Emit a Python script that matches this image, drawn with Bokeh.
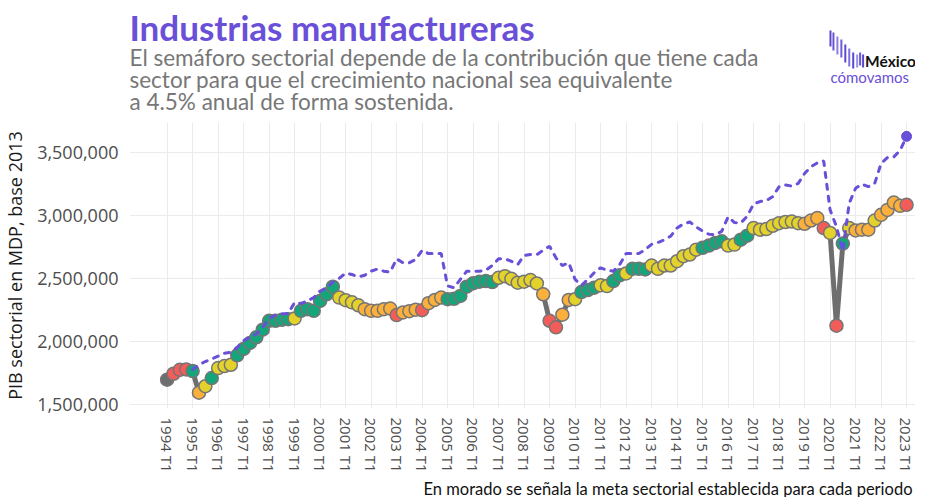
from bokeh.plotting import figure
from bokeh.models import Range1d, FixedTicker, NumeralTickFormatter
from bokeh.layouts import column
from bokeh.core.properties import value
from bokeh.embed import file_html
from bokeh.resources import INLINE

NaN = float("nan")

# ---------------- data ----------------
years = list(range(1994, 2024))
periodos = [f"{y} T{q}" for y in years for q in (1, 2, 3, 4)][:117]

pib = [
    1697000, 1744000, 1775000, 1778000,   # 1994
    1765000, 1594000, 1645000, 1710000,   # 1995
    1789000, 1805000, 1815000, 1890000,   # 1996
    1941000, 1988000, 2033000, 2093000,   # 1997
    2164000, 2164000, 2172000, 2177000,   # 1998
    2183000, 2243000, 2256000, 2243000,   # 1999
    2321000, 2374000, 2434000, 2348000,   # 2000
    2327000, 2310000, 2287000, 2256000,   # 2001
    2243000, 2243000, 2256000, 2261000,   # 2002
    2209000, 2230000, 2240000, 2252000,   # 2003
    2248000, 2303000, 2329000, 2348000,   # 2004
    2335000, 2338000, 2361000, 2434000,   # 2005
    2461000, 2474000, 2479000, 2471000,   # 2006
    2505000, 2518000, 2497000, 2466000,   # 2007
    2474000, 2487000, 2460000, 2374000,   # 2008
    2164000, 2112000, 2212000, 2329000,   # 2009
    2335000, 2392000, 2408000, 2426000,   # 2010
    2445000, 2439000, 2479000, 2524000,   # 2011
    2539000, 2576000, 2576000, 2571000,   # 2012
    2602000, 2576000, 2602000, 2602000,   # 2013
    2636000, 2676000, 2689000, 2728000,   # 2014
    2742000, 2760000, 2781000, 2794000,   # 2015
    2760000, 2768000, 2807000, 2839000,   # 2016
    2899000, 2886000, 2891000, 2917000,   # 2017
    2938000, 2947000, 2951000, 2938000,   # 2018
    2933000, 2959000, 2978000, 2899000,   # 2019
    2860000, 2125000, 2776000, 2899000,   # 2020
    2880000, 2886000, 2886000, 2959000,   # 2021
    3004000, 3043000, 3101000, 3075000,   # 2022
    3083000,                              # 2023
]

meta = [
    NaN, NaN, NaN, NaN,                   # 1994
    1778000, 1815000, 1841000, 1862000,   # 1995
    1883000, 1907000, 1915000, 1954000,   # 1996
    2006000, 2033000, 2059000, 2112000,   # 1997
    2183000, 2209000, 2217000, 2222000,   # 1998
    2309000, 2302000, 2321000, 2348000,   # 1999
    2400000, 2422000, 2470000, 2500000,   # 2000
    2542000, 2531000, 2512000, 2525000,   # 2001
    2557000, 2574000, 2557000, 2550000,   # 2002
    2655000, 2624000, 2624000, 2650000,   # 2003
    2723000, 2697000, 2697000, 2697000,   # 2004
    2440000, 2426000, 2492000, 2557000,   # 2005
    2557000, 2557000, 2565000, 2602000,   # 2006
    2655000, 2655000, 2636000, 2610000,   # 2007
    2681000, 2690000, 2689000, 2723000,   # 2008
    2755000, 2663000, 2602000, 2624000,   # 2009
    2492000, 2445000, 2492000, 2545000,   # 2010
    2584000, 2565000, 2557000, 2610000,   # 2011
    2697000, 2697000, 2697000, 2728000,   # 2012
    2770000, 2785000, 2805000, 2835000,   # 2013
    2900000, 2932000, 2947000, 2908000,   # 2014
    2876000, 2850000, 2846000, 2873000,   # 2015
    2988000, 2943000, 2940000, 2993000,   # 2016
    3090000, 3109000, 3117000, 3148000,   # 2017
    3227000, 3240000, 3232000, 3253000,   # 2018
    3332000, 3385000, 3416000, 3432000,   # 2019
    3043000, 2912000, 2715000, 3096000,   # 2020
    3214000, 3248000, 3227000, 3253000,   # 2021
    3411000, 3458000, 3463000, 3516000,   # 2022
    3626000,                              # 2023
]

semaforo = (
    ["sin dato"] + ["rojo"] * 3 +
    ["verde", "naranja", "amarillo", "verde"] +
    ["amarillo"] * 3 + ["verde"] * 9 +
    ["amarillo"] + ["verde"] * 6 +
    ["amarillo"] * 4 + ["naranja"] * 5 +
    ["rojo"] + ["naranja"] * 3 + ["rojo"] + ["naranja"] * 3 +
    ["verde"] * 8 + ["amarillo"] * 7 +
    ["naranja"] + ["rojo"] * 2 + ["naranja"] * 2 +
    ["amarillo"] + ["verde"] * 3 + ["amarillo"] * 2 + ["verde"] * 2 +
    ["amarillo"] + ["verde"] * 3 + ["amarillo"] * 8 +
    ["verde"] * 4 + ["amarillo"] * 2 + ["verde"] * 2 +
    ["amarillo"] * 8 + ["naranja"] * 3 +
    ["rojo", "amarillo", "rojo", "verde", "amarillo"] +
    ["naranja"] * 3 + ["amarillo"] + ["naranja"] * 4 + ["rojo"]
)

y_ticks = [1500000, 2000000, 2500000, 3000000, 3500000]

titulo = "Industrias manufactureras"
subtitulo = ["El semáforo sectorial depende de la contribución que tiene cada",
             "sector para que el crecimiento nacional sea equivalente",
             "a 4.5% anual de forma sostenida."]
nota = "En morado se señala la meta sectorial establecida para cada periodo"

# ---------------- styling ----------------
paleta = {"verde": "#14a57a", "amarillo": "#e3d22c", "naranja": "#fbb03b",
          "rojo": "#f25d5a", "sin dato": "#6e6e6e"}
morado = "#6a4fd8"
x = list(range(len(pib)))
colores = [paleta[s] for s in semaforo]

W = 915
FL, FR = 120, 0            # frame left / right borders (shared by all rows)
HH, HF = 122, 22           # header / footer heights
HP = 353                   # main plot height (frame 288 + axis labels)


def blank(h):
    f = figure(width=W, height=h, output_backend="svg", toolbar_location=None,
               x_range=Range1d(FL, W - FR), y_range=Range1d(h, 0),
               x_axis_type=None, y_axis_type=None,
               min_border_left=FL, min_border_right=FR,
               min_border_top=0, min_border_bottom=0)
    f.outline_line_color = None
    f.grid.visible = False
    f.background_fill_color = "white"
    f.border_fill_color = "white"
    return f


# ---- header ----
hdr = blank(HH)
hdr.text(x=[FL], y=[26], text=[titulo], text_font=value("Lato"),
         text_font_size="35px", text_font_style="bold", text_color=morado,
         text_baseline="middle")
hdr.text(x=[FL] * 3, y=[57, 79, 101], text=subtitulo,
         text_font=value("Lato"), text_font_size="22.5px", text_color="#777777",
         text_baseline="middle")
# logo
bx = [829, 832, 836, 840, 844, 848, 852, 856, 859, 862]
bt = [30, 32, 36, 39, 44, 48, 52, 54, 52, 54]
bb = [46, 50, 54, 57, 62, 66, 68, 67, 65, 67]
bc = ["#5a48d0", "#6656d6", "#8a7fe3", "#6d5fdb", "#5b4bd2",
      "#7d70e0", "#5a48d0", "#9a90ea", "#6656d6", "#5a48d0"]
hdr.segment(x0=bx, y0=bt, x1=bx, y1=bb, line_color=bc, line_width=2)
hdr.text(x=[864], y=[60], text=["México"], text_font=value("Lato"),
         text_font_size="15.5px", text_font_style="bold", text_color="#111111",
         text_baseline="middle")
hdr.text(x=[829], y=[76], text=["cómovamos"], text_font=value("Lato"),
         text_font_size="15px", text_color=morado, text_baseline="middle")

# ---- main plot ----
p = figure(width=W, height=HP, output_backend="svg", toolbar_location=None,
           x_range=Range1d(-5.9, 117.4), y_range=Range1d(1468500, 3736000),
           min_border_left=FL, min_border_top=0, min_border_right=FR,
           min_border_bottom=HP - 288)
p.outline_line_color = None
p.background_fill_color = "white"
p.border_fill_color = "white"

p.line(x, pib, line_color="#6e6e6e", line_width=5)
p.scatter(x, pib, size=13, fill_color=colores, line_color="#757575",
          line_width=1.5)
p.line(x, meta, line_color=morado, line_width=3, line_dash="5 7",
       line_cap="round")
p.scatter([x[-1]], [meta[-1]], size=10, fill_color=morado, line_color=morado)

xt = list(range(0, len(pib), 4))
p.xaxis.ticker = FixedTicker(ticks=xt)
p.xaxis.major_label_overrides = {i: periodos[i] for i in xt}
p.xaxis.major_label_orientation = "vertical"
p.xaxis.major_label_text_font = "Open Sans"
p.xaxis.major_label_text_font_size = "15px"
p.xaxis.major_label_text_color = "#4d4d4d"
p.xaxis.major_label_standoff = 3

p.yaxis.ticker = FixedTicker(ticks=y_ticks)
p.yaxis.formatter = NumeralTickFormatter(format="0,0")
p.yaxis.major_label_text_font = "Open Sans"
p.yaxis.major_label_text_font_size = "18px"
p.yaxis.major_label_text_color = "#4d4d4d"
p.yaxis.major_label_standoff = 5
p.yaxis.axis_label = "PIB sectorial en MDP, base 2013"
p.yaxis.axis_label_text_font = "Open Sans"
p.yaxis.axis_label_text_font_style = "normal"
p.yaxis.axis_label_text_font_size = "18px"
p.yaxis.axis_label_text_color = "#1a1a1a"
p.yaxis.axis_label_standoff = 7

for ax in (p.xaxis, p.yaxis):
    ax.axis_line_color = None
    ax.major_tick_line_color = None
    ax.minor_tick_line_color = None

p.xgrid.ticker = FixedTicker(ticks=xt)
p.ygrid.ticker = FixedTicker(ticks=y_ticks)
p.grid.grid_line_color = "#ebebeb"
p.grid.grid_line_width = 1

# ---- footer ----
ftr = blank(HF)
ftr.text(x=[W - 3], y=[13], text=[nota], text_font=value("Lato"),
         text_font_size="16.5px", text_color="#111111", text_align="right",
         text_baseline="middle")

layout = column(hdr, p, ftr, spacing=0)
open("out.html", "w").write(file_html(layout, INLINE))
